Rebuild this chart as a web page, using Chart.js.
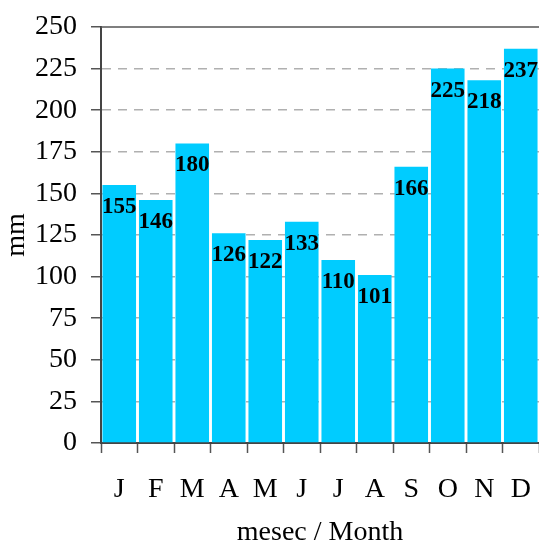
<!DOCTYPE html>
<html>
<head>
<meta charset="utf-8">
<script src="https://cdn.jsdelivr.net/npm/chart.js@4/dist/chart.umd.min.js"></script>
<style>
  html, body { margin: 0; padding: 0; background: #fff; }
  #wrap { width: 539px; height: 543px; }
</style>
</head>
<body>
<div id="wrap"><canvas id="rain" width="539" height="543"></canvas></div>
<script>
var months = ['J', 'F', 'M', 'A', 'M', 'J', 'J', 'A', 'S', 'O', 'N', 'D'];
var rainfall = [155, 146, 180, 126, 122, 133, 110, 101, 166, 225, 218, 237];
var yMax = 250;
var yStep = 25;

var serif = '"Liberation Serif", "Times New Roman", serif';

// values printed in bold just under the top of each bar
var barValues = {
    id: 'barValues',
    afterDatasetsDraw: function (chart) {
        var ctx = chart.ctx;
        var meta = chart.getDatasetMeta(0);
        ctx.save();
        ctx.font = 'bold 23px ' + serif;
        ctx.fillStyle = '#000';
        ctx.textAlign = 'center';
        ctx.textBaseline = 'alphabetic';
        meta.data.forEach(function (bar, i) {
            ctx.fillText(String(rainfall[i]), bar.x, bar.y + 28);
        });
        ctx.restore();
    }
};

// solid frame line along the top of the plot
var topLine = {
    id: 'topLine',
    beforeDatasetsDraw: function (chart) {
        var a = chart.chartArea;
        var ctx = chart.ctx;
        ctx.save();
        ctx.strokeStyle = '#555';
        ctx.lineWidth = 1.5;
        ctx.beginPath();
        ctx.moveTo(a.left, a.top);
        ctx.lineTo(a.right, a.top);
        ctx.stroke();
        ctx.restore();
    }
};

var ctx = document.getElementById('rain').getContext('2d');
var myChart = new Chart(ctx, {
    type: 'bar',
    data: {
        labels: months,
        datasets: [{
            label: 'mm',
            data: rainfall,
            backgroundColor: '#00CCFF',
            borderWidth: 0,
            categoryPercentage: 0.92,
            barPercentage: 1.0
        }]
    },
    options: {
        responsive: false,
        animation: false,
        devicePixelRatio: 1,
        layout: { padding: { top: 27, right: 0, bottom: 0, left: 0 } },
        plugins: {
            legend: { display: false },
            tooltip: { enabled: false }
        },
        scales: {
            x: {
                grid: {
                    offset: true,
                    drawOnChartArea: false,
                    drawTicks: true,
                    tickLength: 10,
                    tickColor: '#555',
                    tickWidth: 1.5
                },
                border: { color: '#444', width: 2 },
                ticks: {
                    color: '#000',
                    font: { family: serif, size: 28 },
                    padding: 20,
                    maxRotation: 0,
                    autoSkip: false
                },
                title: {
                    display: true,
                    text: 'mesec / Month',
                    color: '#000',
                    font: { family: serif, size: 28, lineHeight: 0.75 },
                    padding: 0
                },
                afterFit: function (scale) {
                    scale.height = 100;
                    scale.paddingLeft = 0;
                    scale.paddingRight = 0;
                }
            },
            y: {
                min: 0,
                max: yMax,
                grid: {
                    color: function (c) {
                        return c.tick && c.tick.value === yMax ? 'rgba(0,0,0,0)' : '#b0b0b0';
                    },
                    lineWidth: 1.5,
                    drawTicks: true,
                    tickLength: 10,
                    tickColor: '#555',
                    tickWidth: 1.5,
                    tickBorderDash: []
                },
                border: { color: '#444', width: 2, dash: [9, 7] },
                ticks: {
                    stepSize: yStep,
                    color: '#000',
                    font: { family: serif, size: 28 },
                    padding: 14
                },
                title: {
                    display: true,
                    text: 'mm',
                    color: '#000',
                    font: { family: serif, size: 28, lineHeight: 1.2 },
                    padding: 0
                },
                afterFit: function (scale) {
                    scale.width = 101;
                    scale.paddingTop = 0;
                    scale.paddingBottom = 0;
                }
            }
        }
    },
    plugins: [topLine, barValues]
});
</script>
</body>
</html>
